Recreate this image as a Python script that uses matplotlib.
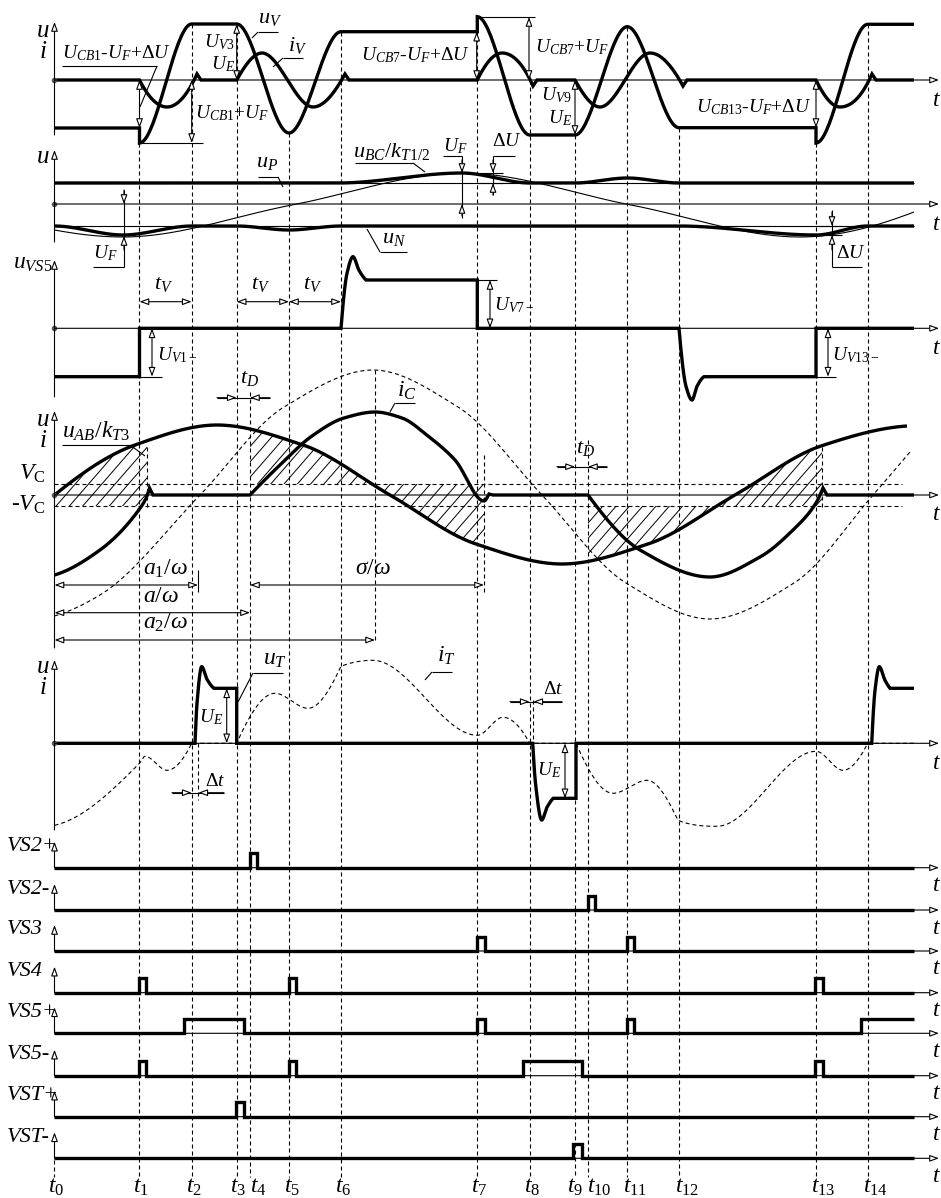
import numpy as np
import matplotlib.pyplot as plt
from matplotlib.patches import Polygon

plt.rcParams['font.family'] = ['Liberation Serif', 'DejaVu Serif']
plt.rcParams['mathtext.fontset'] = 'custom'
plt.rcParams['mathtext.rm'] = 'Liberation Serif'
plt.rcParams['mathtext.it'] = 'Liberation Serif:italic'
plt.rcParams['mathtext.bf'] = 'Liberation Serif:bold'

# switching instants t0..t14, end of traces and tip of time axes
t = [54.5, 139.5, 191.7, 236.7, 250.0, 289.0, 341.0, 477.3, 529.7,
     575.0, 588.0, 627.3, 679.0, 816.0, 867.7]
t0, t1, t2, t3, t4, t5, t6, t7, t8, t9, t10, t11, t12, t13, t14 = t
t_end, t_tip = 914.0, 939.0

# waveforms: x, value above the zero line, segment codes
# l = straight, j = jump, s/r = smooth, S = smooth with flat ends
uV_x = [t0, t1, t1, t2, t3, t5, t6, t7, t7, t8, t9, t11, t12, t13, t13, t14, t_end]
uV_v = [-48, -48, -63, 56, 56, -53, 48.3, 48.3, 63.3, -55, -55, 53.3, -47.7, -47.7, -63, 55.7, 55.7]
uV_c = "ljSlSSljSlSSljSl"

iV_x = [t0, t1, 167, 197, 201, t3, 262, 313, 345, 349, t7, 502, 533, 537,
        t9, 600, 650, 683, 687, t13, 840, 872, 876, t_end]
iV_v = [0, 0, -27, 6, 0, 0, 27, -27, 6, 0, 0, 27, -6, 0,
        0, -27, 27, -6, 0, 0, -27, 6, 0, 0]
iV_c = "lssllsssllssllsssllssll"

uP_x = [t0, 338, 462, 530, t9, t11, t12, t_end]
uP_v = [21, 21, 31, 21, 21, 26, 21, 21]
uP_c = "lSSlSSl"

uN_x = [t0, 123, 192, t3, t5, t6, t12, 816, t14, t_end]
uN_v = [-22, -31, -22, -22, -26, -22, -22, -31, -22, -22]
uN_c = "SSlSSlSSl"

uBC_x = [t0, 123, 292, 462, 631, 800, t_end]
uBC_v = [-26, -33, -1, 31, -1, -33, -8]
uBC_c = "ssssss"

uVS5_x = [t0, t1, t1, t6, 347, 353, 359, 366, t7, t7, t12, 686, 692, 697, 704, t13, t13, t_end]
uVS5_v = [-48.4, -48.4, 0, 0, 55, 71.6, 58, 48.3, 48.3, 0, 0, -58, -71.7, -58, -48.4, -48.4, 0, 0]
uVS5_c = "ljlssssljlssssljl"

uAB_x = [t0, 135, 217, 303, 390, 476, 562, 648, 735, 821, 907]
uAB_v = [0, 50, 70, 50, 0, -49, -69, -49, 0, 49, 69]

uCA_x = [t0, 100, 200, 284, 373, 458, 542, 626, 710, 794, 873, 910]
uCA_v = [-121, -100, 0, 88, 125, 88, 0, -88, -124, -88, 0, 43]

iC_x = [t0, 100, 139.5, 147, 149.5, 153, t4, 281, 312, 344, 375, 402, 428, 455, 484, 489, 493,
        t10, 640, 710, 760, 793, 816, 823, 827, t_end]
iC_v = [-80, -55, -14, -1, 7, 0, 0, 31, 59, 77, 83, 77, 59, 35, -6, 1, 0,
        0, -55, -82, -62, -35, -8, 7, 0, 0]
iC_c = "ssssllsssssssssllssssssll"
V_C = 11.0

uT_x = [t0, 195, 197, 201.7, 207, 214, t3, t3, 532.7, 535.5, 541.7, 547, 553.3, 576, 576,
        871.7, 875, 879.3, 885, 890, t_end]
uT_v = [0, 0, 40, 76.6, 64, 55, 55, 0, 0, -40, -76.7, -64, -55, -55, 0,
        0, 53, 76.6, 63, 55, 55]
uT_c = "lssssljlssssljlssssl"

iT_x = [t0, 139.5, 145, 167, 191.7, t3, 275, 308, 341, 373, 477.3, 503, 529.7,
        576, 613, 647, 678, 717, 816, 843, 867.7, t_end]
iT_v = [-82, -20, -13, -27, 0, 0, 50, 35, 77, 83, 8, 26, 0,
        0, -50, -37, -77, -83, -8, -27, 0, 0]
iT_c = "sssslsssrrrrlsssrrrrl"

dig_names = ['VS2+', 'VS2-', 'VS3', 'VS4', 'VS5+', 'VS5-', 'VST+', 'VST-']
dig_pulses = [[(250, 257)],
              [(588, 595)],
              [(476.7, 485), (626.7, 634)],
              [(139.5, 146.5), (289, 296), (815, 822.7)],
              [(184.3, 244.3), (476.7, 485), (626.7, 634), (861, t_end)],
              [(139.5, 146.5), (289, 296), (522.7, 581.7), (815, 822.7)],
              [(235.7, 244.3)],
              [(573.3, 581.7)]]

# layout (px)
Y1, Y2, Y3, Y4, Y5 = 80, 204, 328.3, 495, 743.3
YD = [867.7, 910, 951, 992.7, 1033.3, 1075.7, 1116.7, 1158.3]
PULSE_H = 14.3
TH, TN = 2.4, 0.8
DASH = (0, (3.6, 2.7))


def end_slope(h0, h1, d0, d1):
    m = ((2 * h0 + h1) * d0 - h0 * d1) / (h0 + h1)
    if np.sign(m) != np.sign(d0):
        m = 0.0
    elif np.sign(d0) != np.sign(d1) and abs(m) > 3 * abs(d0):
        m = 3 * d0
    return m


def pchip(xk, yk, flat=False, n=40):
    xk = np.asarray(xk, float)
    yk = np.asarray(yk, float)
    h = np.diff(xk)
    d = np.diff(yk) / h
    m = np.zeros_like(xk)
    for k in range(1, len(xk) - 1):
        if d[k - 1] * d[k] > 0:
            w1, w2 = 2 * h[k] + h[k - 1], h[k] + 2 * h[k - 1]
            m[k] = (w1 + w2) / (w1 / d[k - 1] + w2 / d[k])
    if not flat:
        if len(xk) == 2:
            m[:] = d[0]
        else:
            m[0] = end_slope(h[0], h[1], d[0], d[1])
            m[-1] = end_slope(h[-1], h[-2], d[-1], d[-2])
    xs, ys = [xk[:1]], [yk[:1]]
    s = np.linspace(0, 1, n)[1:]
    for k in range(len(h)):
        h00 = 2 * s**3 - 3 * s**2 + 1
        h10 = s**3 - 2 * s**2 + s
        h01 = -2 * s**3 + 3 * s**2
        h11 = s**3 - s**2
        ys.append(h00 * yk[k] + h10 * h[k] * m[k] + h01 * yk[k + 1] + h11 * h[k] * m[k + 1])
        xs.append(xk[k] + s * h[k])
    return np.concatenate(xs), np.concatenate(ys)


def trace(xs, vs, codes):
    X, V = [xs[0]], [vs[0]]
    i = 0
    while i < len(codes):
        c = codes[i]
        if c in 'lj':
            X.append(xs[i + 1]); V.append(vs[i + 1]); i += 1
            continue
        j = i
        while j < len(codes) and codes[j] == c:
            j += 1
        px, pv = pchip(xs[i:j + 1], vs[i:j + 1], flat=(c == 'S'))
        X.extend(px[1:]); V.extend(pv[1:])
        i = j
    return np.array(X), np.array(V)


fig = plt.figure(figsize=(9.41, 11.98), dpi=100)
ax = fig.add_axes([0, 0, 1, 1])
ax.set_xlim(0, 941)
ax.set_ylim(1198, 0)
ax.axis('off')


def line(xs, ys, lw=TN, ls='-', z=3):
    ax.plot(xs, ys, color='k', lw=lw, ls=ls, zorder=z,
            solid_capstyle='butt', solid_joinstyle='miter')


def arrow(tail, tip, both=False):
    style = '<|-|>' if both else '-|>'
    ax.annotate('', xy=tip, xytext=tail, zorder=6,
                arrowprops=dict(arrowstyle=style + ',head_length=0.55,head_width=0.2',
                                fc='white', ec='k', lw=0.8, shrinkA=0, shrinkB=0,
                                mutation_scale=10))


def dim(x, a, b):
    arrow((x, a), (x, b), both=True)


def label(x, y, s, size=14, ha='left', style='normal'):
    ax.text(x, y, s, fontsize=size, ha=ha, va='center', style=style, zorder=7)


def ui(y):
    label(43, y, '$u$', 18, ha='center')
    label(43, y + 21, '$i$', 18, ha='center')


def wave(xs, vs, codes, base, lw=TH, ls='-', z=4):
    x, v = trace(xs, vs, codes)
    line(x, base - v, lw=lw, ls=ls, z=z)
    return x, v


# dashed time markers
tops = [1160, 143, 24, 24, 392, 133, 32, 17, 80, 135, 440, 27, 128, 143, 24]
for x, top in zip(t, tops):
    line([x, x], [top, 1177], ls=DASH, z=1)
for x, a, b in [(147, 447, 507), (375, 370, 642), (484, 455, 592), (822, 447, 507),
                (198, 743, 800), (533.3, 700, 743)]:
    line([x, x], [a, b], ls=DASH, z=1)
line([198, 198], [570, 592])

# axes with hollow arrowheads
for base, top, bottom in [(Y1, 22, 135), (Y2, 150, 242), (Y3, 260, 397),
                          (Y4, 411, 648), (Y5, 660, 830)]:
    arrow((t0, bottom), (t0, top))
    arrow((t0, base), (t_tip, base))
    ax.plot([t0], [base], 'o', ms=3, color='0.35', zorder=5)
    label(937, base + 20, '$t$', 17, ha='center')
for base in YD:
    arrow((t0, base), (t0, base - 26))
    arrow((t0, base), (t_tip, base))
    label(937, base + 18, '$t$', 17, ha='center')

# ---- panel 1: u_V, i_V
wave(uV_x, uV_v, uV_c, Y1)
wave(iV_x, iV_v, iV_c, Y1)
ui(31)
label(270, 19, '$u_V$', 16, ha='center')
line([258, 278], [32, 32]); line([258, 252], [32, 38])
label(298, 46, '$i_V$', 16, ha='center')
line([283, 303], [58, 58]); line([283, 273], [58, 67])
label(62, 53, r'$U_{CB1}$-$U_F$+$\Delta U$')
line([62, 157], [66, 66]); line([157, 140], [66, 107])
dim(t1, Y1, Y1 - uV_v[0])
dim(t2, Y1, 143)
line([140, 203], [143, 143])
label(195, 113, r'$U_{CB1}$+$U_F$')
dim(t3, 24, Y1)
label(235, 42, '$U_{V3}$', ha='right')
label(235, 64, '$U_E$', ha='right')
dim(476.7, 31.7, Y1)
label(470, 55, r'$U_{CB7}$-$U_F$+$\Delta U$', ha='right')
dim(529, 17, Y1)
line([477, 535], [17, 17])
label(535, 47, r'$U_{CB7}$+$U_F$')
dim(t9, Y1, 135)
label(572, 95, '$U_{V9}$', ha='right')
label(572, 118, '$U_E$', ha='right')
dim(t13, Y1, 128)
label(812, 107, r'$U_{CB13}$-$U_F$+$\Delta U$', ha='right')

# ---- panel 2: u_P, u_N, u_BC/k
line([t0, t_end], [Y2 - uP_v[0]] * 2)
line([t0, t_end], [Y2 - uN_v[0]] * 2)
wave(uBC_x, uBC_v, uBC_c, Y2, lw=TN, z=3)
wave(uP_x, uP_v, uP_c, Y2)
wave(uN_x, uN_v, uN_c, Y2)
label(43, 157, '$u$', 18, ha='center')
label(267, 162, '$u_P$', 16, ha='center')
line([258, 278], [177, 177]); line([278, 283], [177, 187])
label(353, 152, r'$u_{BC}/k_{T1/2}$', 16)
line([355, 413], [163, 163]); line([413, 425], [163, 172])
label(443, 146, '$U_F$')
line([443, 462], [156, 156]); line([462, 462], [156, 218])
arrow((462, 160), (462, 173)); arrow((462, 216), (462, 204))
label(492, 142, r'$\Delta U$')
line([493, 515], [156, 156]); line([493, 493], [156, 195])
arrow((493, 160), (493, 173)); arrow((493, 195), (493, 183))
line([477, 503], [173, 173]); line([477, 503], [183, 183])
label(93, 253, '$U_F$')
line([93, 124], [267, 267]); line([124, 124], [267, 190])
arrow((124, 190), (124, 204)); arrow((124, 250), (124, 236))
label(382, 239, '$u_N$', 16)
line([380, 407], [252, 252]); line([380, 367], [252, 229])
label(836, 254, r'$\Delta U$')
line([832, 862], [267, 267]); line([832, 832], [210, 267])
arrow((832, 212), (832, 226)); arrow((832, 250), (832, 235))
line([816, 842], [226, 226]); line([816, 842], [235, 235])

# ---- panel 3: u_VS5
wave(uVS5_x, uVS5_v, uVS5_c, Y3)
label(13, 263, '$u_{VS5}$', 17)
for a, b in [(t1, t2), (t3, t5), (t5, t6)]:
    arrow((a, 301.7), (b, 301.7), both=True)
    label((a + b) / 2 - 2, 285, '$t_V$', 16, ha='center')
dim(152, Y3, 376.7)
line([140, 162], [376.7, 376.7])
label(157, 355, '$U_{V1-}$')
dim(490, 280, Y3)
line([477, 497], [280, 280])
label(494, 305, '$U_{V7-}$')
dim(828, Y3, 376.7)
line([816, 836], [376.7, 376.7])
label(832, 355, '$U_{V13-}$')

# ---- panel 4: u_AB/k, i_C, hatched areas
for lev in (V_C, -V_C):
    line([t0, 902], [Y4 - lev] * 2, ls=DASH, z=1)
abx, abv = pchip(uAB_x, uAB_v)
line(abx, Y4 - abv, lw=TH, z=4)
cax, cav = pchip(uCA_x, uCA_v)
line(cax, Y4 - cav, ls=DASH, z=2)
wave(iC_x, iC_v, iC_c, Y4)


def hatch(x0, x1, level, step=13.3, k=1.15):
    xs = np.linspace(x0, x1, 200)
    top = np.interp(xs, abx, abv)
    verts = np.column_stack([np.r_[xs, xs[::-1]],
                             np.r_[Y4 - top, np.full(xs.size, Y4 - level)]])
    patch = Polygon(verts, closed=True, fc='none', ec='none')
    ax.add_patch(patch)
    for c in np.arange(x0 - 230, x1 + 10, step):
        ln, = ax.plot([c, c + 260], [650, 650 - 260 * k], color='k', lw=0.7, zorder=2)
        ln.set_clip_path(patch)


hatch(t0, 147, -V_C)
hatch(t4, 484, V_C)
hatch(t10, 822, -V_C)

ui(420)
label(45, 474, r'$V_\mathrm{C}$', 17, ha='right')
label(45, 505, r'-$V_\mathrm{C}$', 17, ha='right')
label(62, 431, r'$u_{AB}/k_{T3}$', 17)
line([62, 130], [445, 445]); line([130, 145], [445, 456])
label(397, 391, '$i_C$', 17)
line([395, 415], [403, 403]); line([395, 390], [403, 412])
arrow((217, 397.7), (t3, 397.7)); arrow((270, 397.7), (t4, 397.7))
line([217, 270], [397.7, 397.7])
label(250, 379, '$t_D$', 16, ha='center')
arrow((557, 466.7), (t9, 466.7)); arrow((607, 466.7), (t10, 466.7))
line([557, 607], [466.7, 466.7])
label(586, 448, '$t_D$', 16, ha='center')
arrow((t0, 585), (198, 585), both=True)
label(143, 569, r'$a_1/\omega$', 17)
arrow((t0, 612.7), (t4, 612.7), both=True)
label(143, 597, r'$a/\omega$', 17)
arrow((t0, 640), (375, 640), both=True)
label(143, 623, r'$a_2/\omega$', 17)
arrow((t4, 585), (484, 585), both=True)
label(355, 569, r'$\sigma/\omega$', 17)

# ---- panel 5: u_T, i_T
wave(iT_x, iT_v, iT_c, Y5, lw=TN, ls=DASH, z=2)
wave(uT_x, uT_v, uT_c, Y5)
ui(667)
label(263, 659, '$u_T$', 17)
line([253, 283], [673, 673]); line([253, 238], [673, 702])
label(437, 656, '$i_T$', 17)
line([432, 452], [672, 672]); line([432, 425], [672, 680])
dim(226.7, 688.3, Y5)
label(223, 717, '$U_E$', ha='right')
dim(565, Y5, 798.3)
label(561, 770, '$U_E$', ha='right')
arrow((172, 792.7), (t2, 792.7)); arrow((224, 792.7), (198.3, 792.7))
line([172, 224], [792.7, 792.7])
label(205, 781, r'$\Delta t$')
arrow((510, 701.7), (t8, 701.7)); arrow((562, 701.7), (533.3, 701.7))
line([510, 562], [701.7, 701.7])
label(543, 689, r'$\Delta t$')

# ---- gate signals
for name, base, pulses in zip(dig_names, YD, dig_pulses):
    xs, ys = [t0], [base]
    for a, b in pulses:
        xs += [a, a, b]
        ys += [base, base - PULSE_H, base - PULSE_H]
        if b < t_end:
            xs.append(b); ys.append(base)
    if xs[-1] < t_end:
        xs.append(t_end); ys.append(base)
    line(xs, ys, lw=TH, z=4)
    label(7, base - 21, name, 16, style='italic')

# ---- instant labels
shift = [0, 0, 0, -1, 6, 1, 0, 0, 0, -2, 5, 2, 2, 1, 1]
for k, (x, dx) in enumerate(zip(t, shift)):
    label(x - 6 + dx, 1187, '$t_{%d}$' % k, 17)

fig.savefig('out.png', dpi=100)
